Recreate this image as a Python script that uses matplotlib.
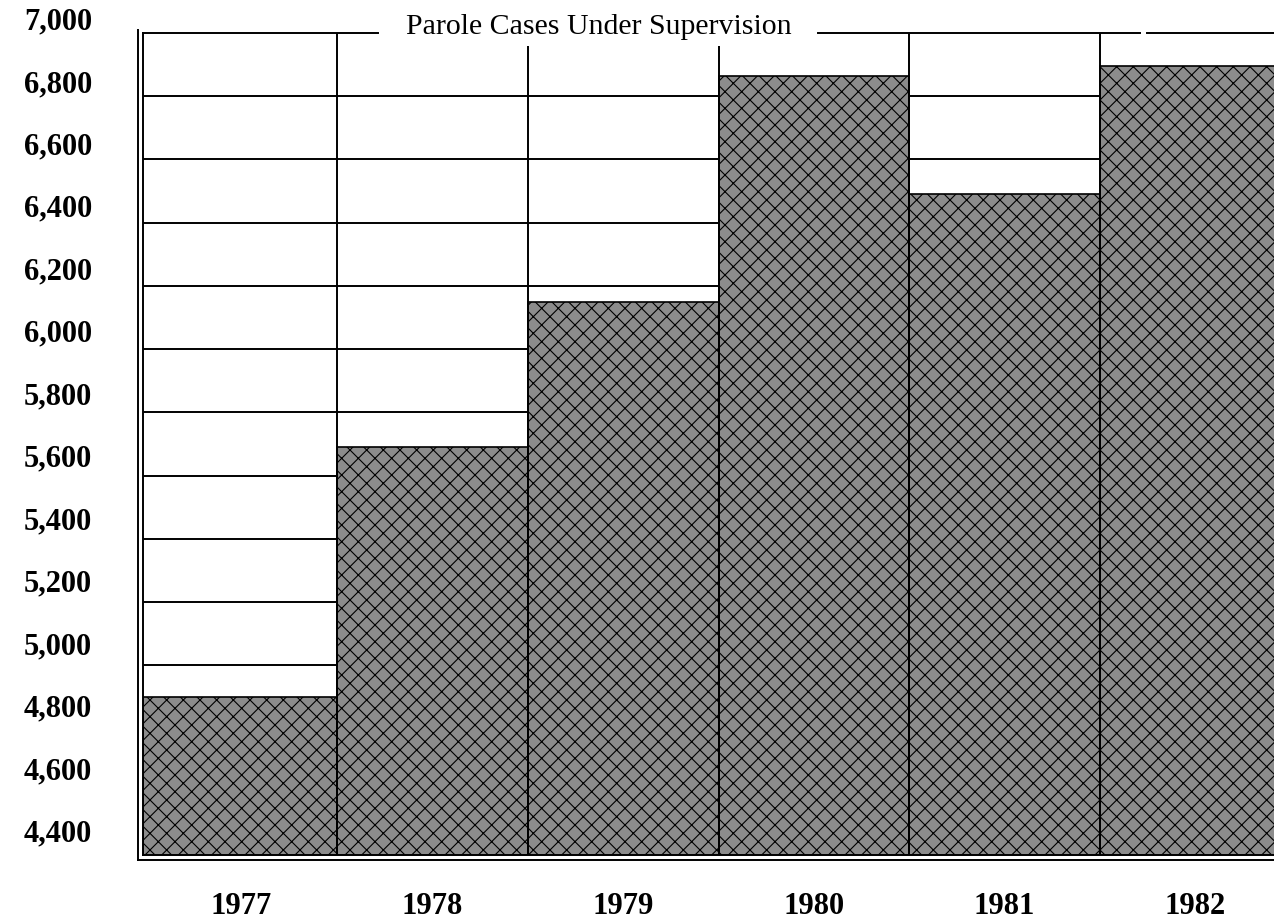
import matplotlib
matplotlib.use("Agg")
import matplotlib.pyplot as plt
from matplotlib.transforms import blended_transform_factory, ScaledTranslation

years = ["1977", "1978", "1979", "1980", "1981", "1982"]
cases = [4900, 5690, 6150, 6865, 6490, 6895]
ytick_values = [4400, 4600, 4800, 5000, 5200, 5400, 5600, 5800,
                6000, 6200, 6400, 6600, 6800, 7000]
ytick_labels = ["4,400", "4,600", "4,800", "5,000", "5,200", "5,400", "5,600",
                "5,800", "6,000", "6,200", "6,400", "6,600", "6,800", "7,000"]
grid_values = [5000, 5200, 5400, 5600, 5800, 6000, 6200, 6400, 6600, 6800]
title = "Parole Cases Under Supervision"

W, H, DPI = 1274, 919, 100
plt.rcParams['hatch.linewidth'] = 0.8
serif = ["Liberation Serif", "DejaVu Serif"]

fig = plt.figure(figsize=(W / DPI, H / DPI), dpi=DPI)
fig.patch.set_facecolor("white")

left_px, top_px, bottom_px = 143, 33, 855
ax_rect = [left_px / W, 1 - bottom_px / H, 1 - left_px / W, (bottom_px - top_px) / H]

# background axes providing the outer line of the double frame
off = 5
bg = fig.add_axes([(left_px - off) / W, 1 - (bottom_px + off) / H,
                   1 - (left_px - off) / W, (bottom_px + off - top_px + 3) / H])
bg.set_xticks([]); bg.set_yticks([])
for s in ["top", "right"]:
    bg.spines[s].set_visible(False)
for s in ["left", "bottom"]:
    bg.spines[s].set_linewidth(1.4)

XMIN, XMAX = -0.517, 5.412
ax = fig.add_axes(ax_rect)
ax.set_xlim(XMIN, XMAX)
ax.set_ylim(4400, 7000)

x = list(range(len(years)))
lefts = [i - 0.5 for i in x]
lefts[0] = XMIN
widths = [1.0] * len(x)
widths[0] = 0.5 - XMIN

# horizontal grid lines (behind bars)
for g in grid_values:
    ax.axhline(g, color="black", lw=1.4, zorder=1)

ax.bar(lefts, cases, width=widths, align="edge", bottom=0, facecolor="#8c8c8c",
       edgecolor="black", hatch="xx", linewidth=1.2, zorder=2)
# vertical dividers full height
for b in range(len(years) - 1):
    ax.axvline(b + 0.5, color="black", lw=1.4, zorder=3)

for s in ["top", "right"]:
    ax.spines[s].set_visible(False)
for s in ["left", "bottom"]:
    ax.spines[s].set_linewidth(1.4)
    ax.spines[s].set_zorder(4)

# top line with gap for title
for x0, x1 in [(XMIN, 0.715), (3.02, 4.71), (4.746, XMAX)]:
    ax.plot([x0, x1], [7000, 7000], color="black", lw=1.4, clip_on=False, zorder=4)

ax.text(1.87, 7000, title, ha="center", va="center", fontsize=21.5,
        family=serif, zorder=6,
        bbox=dict(facecolor="white", edgecolor="none", pad=4),
        transform=ax.transData + ScaledTranslation(0, 6 / DPI, fig.dpi_scale_trans))

# y labels (slightly above their grid values as in the original)
ax.set_yticks([])
for v, lab in zip(ytick_values, ytick_labels):
    dy = 11 + (7000 - v) / 2600 * 10
    tr = blended_transform_factory(ax.transAxes, ax.transData) + \
        ScaledTranslation(-51 / DPI, dy / DPI, fig.dpi_scale_trans)
    ax.text(0, v, lab, ha="right", va="center", fontsize=22, fontweight="bold",
            family=serif, transform=tr)

ax.set_xticks(x)
ax.set_xticklabels(years, fontsize=22, fontweight="bold", family=serif)
ax.tick_params(axis="x", length=0, pad=27)

fig.savefig("out.png", dpi=DPI, facecolor="white")
